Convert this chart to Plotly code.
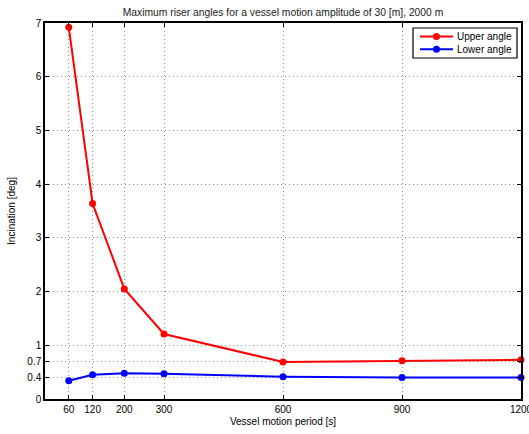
import plotly.graph_objects as go

# Vessel motion periods [s]
periods = [60, 120, 200, 300, 600, 900, 1200]
# Maximum riser inclination [deg]
upper_angle = [6.92, 3.64, 2.05, 1.21, 0.69, 0.71, 0.73]
lower_angle = [0.34, 0.45, 0.48, 0.47, 0.415, 0.40, 0.40]

series_names = ["Upper angle", "Lower angle"]
series_colors = ["#ff0000", "#0000ff"]

x_ticks = [60, 120, 200, 300, 600, 900, 1200]
y_ticks = [0, 0.4, 0.7, 1, 2, 3, 4, 5, 6, 7]
y_tick_text = ["0", "0.4", "0.7", "1", "2", "3", "4", "5", "6", "7"]

font_family = "Liberation Sans, Arial, sans-serif"

W, H = 529, 434
M_L, M_R, M_T, M_B = 45, 8, 23, 35
plot_w = W - M_L - M_R
plot_h = H - M_T - M_B


def px_x(px):
    """Pixel column -> paper x fraction."""
    return (px - M_L) / plot_w


def px_y(py):
    """Pixel row -> paper y fraction."""
    return (H - M_B - py) / plot_h


fig = go.Figure()
for name, color, vals in zip(series_names, series_colors, [upper_angle, lower_angle]):
    fig.add_trace(go.Scatter(
        x=periods, y=vals, mode="lines+markers", name=name,
        line=dict(color=color, width=2), marker=dict(color=color, size=7),
        cliponaxis=False, showlegend=False,
    ))

# Compact boxed legend in the upper-right corner
box_l, box_r, box_t, box_b = 413, 517, 28, 58
fig.add_shape(type="rect", xref="paper", yref="paper",
              x0=px_x(box_l), x1=px_x(box_r), y0=px_y(box_b), y1=px_y(box_t),
              line=dict(color="black", width=1.2), fillcolor="white", layer="above")
for i, (name, color) in enumerate(zip(series_names, series_colors)):
    yy = px_y(36.5 + 12.7 * i)
    fig.add_shape(type="line", xref="paper", yref="paper",
                  x0=px_x(420), x1=px_x(453), y0=yy, y1=yy,
                  line=dict(color=color, width=2), layer="above")
    fig.add_shape(type="circle", xref="paper", yref="paper",
                  xsizemode="pixel", ysizemode="pixel",
                  xanchor=px_x(436.5), yanchor=yy,
                  x0=-3.5, x1=3.5, y0=-3.5, y1=3.5,
                  line=dict(color=color, width=0), fillcolor=color, layer="above")
    fig.add_annotation(text=name, xref="paper", yref="paper",
                       x=px_x(455), y=yy, xanchor="left", yanchor="middle",
                       showarrow=False, font=dict(size=10, color="black"))

axis_common = dict(
    showline=True, linecolor="black", linewidth=1.5, mirror="ticks",
    ticks="inside", ticklen=4, tickcolor="black",
    showgrid=True, gridcolor="#8c8c8c", griddash="1px,3px", gridwidth=1,
    zeroline=False, tickfont=dict(size=10, color="black"), automargin=False,
    ticklabeloverflow="allow",
)

fig.update_layout(
    width=W, height=H,
    margin=dict(l=M_L, r=M_R, t=M_T, b=M_B),
    paper_bgcolor="white", plot_bgcolor="white",
    font=dict(family=font_family, size=10, color="black"),
    title=dict(
        text="Maximum riser angles for a vessel motion amplitude of 30 [m], 2000 m",
        x=px_x(283), xanchor="center", xref="paper", y=1 - 12 / H, yanchor="middle",
        font=dict(size=10.3, color="#222222"),
    ),
    xaxis=dict(
        range=[0, 1200], tickvals=x_ticks,
        title=dict(text="Vessel motion period [s]", standoff=4, font=dict(size=10)),
        **axis_common,
    ),
    yaxis=dict(
        range=[0, 7], tickvals=y_ticks, ticktext=y_tick_text,
        title=dict(text="Incination [deg]", standoff=10, font=dict(size=10)),
        **axis_common,
    ),
    showlegend=False,
)

fig.write_html("out.html")
